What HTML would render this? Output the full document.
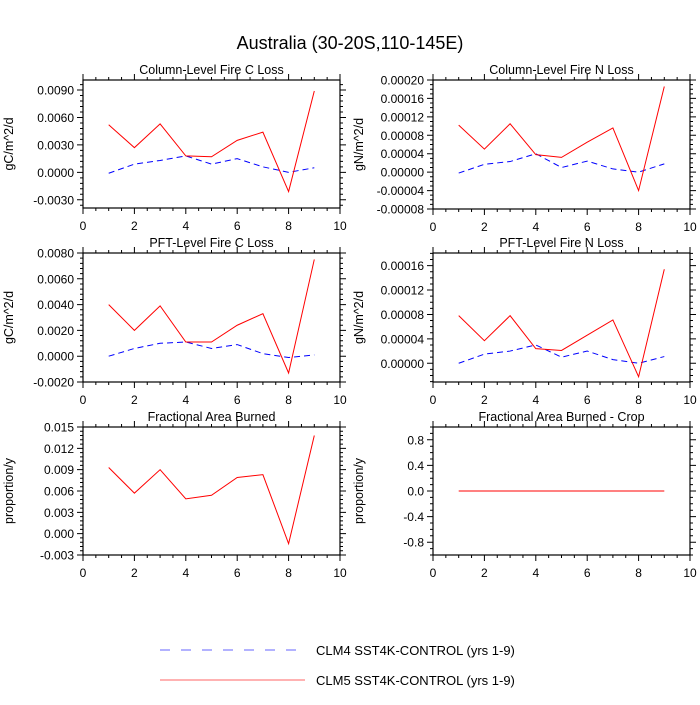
<!DOCTYPE html>
<html><head><meta charset="utf-8"><style>
body{margin:0;background:#fff;}
svg text{font-family:"Liberation Sans",sans-serif;fill:#000;}
</style></head><body>
<svg id="chart" width="700" height="700" viewBox="0 0 700 700" xmlns="http://www.w3.org/2000/svg">
<rect width="700" height="700" fill="#fff"/>
<text x="350" y="49" font-size="18" text-anchor="middle">Australia (30-20S,110-145E)</text>
<g>
<line x1="160" y1="650" x2="298" y2="650" stroke="#6666ff" stroke-width="1" stroke-dasharray="10,11"/>
<text x="316" y="655" font-size="13">CLM4 SST4K-CONTROL (yrs 1-9)</text>
<line x1="160" y1="680" x2="305" y2="680" stroke="#ff6666" stroke-width="1"/>
<text x="316" y="685" font-size="13">CLM5 SST4K-CONTROL (yrs 1-9)</text>
</g>
</svg>
<script>
const years = [1,2,3,4,5,6,7,8,9];
const xTicks = [0,2,4,6,8,10];
const colCRed = [0.0052,0.0027,0.0053,0.0018,0.0017,0.0035,0.0044,-0.0021,0.0089];
const colCBlue = [-0.0001,0.0009,0.0013,0.0018,0.0009,0.0015,0.0006,0.0000,0.0005];
const colCTicks = ["0.0090","0.0060","0.0030","0.0000","-0.0030"];
const pftCRed = [0.0040,0.0020,0.0039,0.0011,0.0011,0.0024,0.0033,-0.0013,0.0075];
const pftCBlue = [0.0000,0.0006,0.0010,0.0011,0.0006,0.0009,0.0002,-0.0001,0.0001];
const pftCTicks = ["0.0080","0.0060","0.0040","0.0020","0.0000","-0.0020"];
const colNRed = [0.000102,0.000050,0.000105,0.000038,0.000032,0.000065,0.000096,-0.000040,0.000186];
const colNBlue = [-0.000002,0.000017,0.000023,0.000040,0.000010,0.000024,0.000007,0.000000,0.000018];
const colNTicks = ["0.00020","0.00016","0.00012","0.00008","0.00004","0.00000","-0.00004","-0.00008"];
const pftNRed = [0.000078,0.000037,0.000078,0.000024,0.000021,0.000046,0.000071,-0.000022,0.000154];
const pftNBlue = [0.000000,0.000015,0.000020,0.000030,0.000010,0.000020,0.000006,0.000000,0.000011];
const pftNTicks = ["0.00016","0.00012","0.00008","0.00004","0.00000"];
const fabRed = [0.0093,0.0057,0.0090,0.0049,0.0054,0.0079,0.0083,-0.0014,0.0138];
const fabTicks = ["0.015","0.012","0.009","0.006","0.003","0.000","-0.003"];
const cropRed = [0,0,0,0,0,0,0,0,0];
const cropTicks = ["0.8","0.4","0.0","-0.4","-0.8"];

const NS="http://www.w3.org/2000/svg";
const svg=document.getElementById('chart');
function mk(tag,attrs,parent){const e=document.createElementNS(NS,tag);for(const k in attrs)e.setAttribute(k,attrs[k]);parent.appendChild(e);return e;}

function panel(name,title,ylab,x0,x1,y0,y1,ymin,ymax,ticks,minorStep,red,blue){
  const g=mk('g',{},svg);
  
  
  const sx=v=>x0+(v-0)/(10-0)*(x1-x0);
  const sy=v=>y1-(v-ymin)/(ymax-ymin)*(y1-y0);
  mk('rect',{x:x0,y:y0,width:x1-x0,height:y1-y0,fill:'none',stroke:'#000','stroke-width':1.2},g);
  const t=mk('text',{x:(x0+x1)/2,y:y0-6,'font-size':12.5,'text-anchor':'middle'},g);t.textContent=title;
  
  
  const yl=mk('text',{transform:`translate(${x0-70},${(y0+y1)/2}) rotate(-90)`,'font-size':12.5,'text-anchor':'middle'},g);yl.textContent=ylab;
  
  
  let p='';
  xTicks.forEach(v=>{const X=sx(v);p+=`M${X},${y1}v6M${X},${y0}v-6`;
    const tl=mk('text',{x:X,y:y1+22,'font-size':12,'text-anchor':'middle'},g);tl.textContent=v;
    
    });
  for(let v=0.5;v<10;v+=0.5){if(v%2===0)continue;const X=sx(v);p+=`M${X},${y1}v3M${X},${y0}v-3`;}
  ticks.forEach(s=>{const v=parseFloat(s);const Y=sy(v);p+=`M${x0},${Y}h-6M${x1},${Y}h6`;
    const tl=mk('text',{x:x0-9,y:Y+4.5,'font-size':12,'text-anchor':'end'},g);tl.textContent=s;
    
    });
  const eps=minorStep*1e-3;
  for(let k=Math.ceil(ymin/minorStep);k*minorStep<=ymax+eps;k++){const Y=sy(k*minorStep);p+=`M${x0},${Y}h-3M${x1},${Y}h3`;}
  mk('path',{d:p,stroke:'#000','stroke-width':1,fill:'none'},g);
  if(blue){const l=mk('polyline',{points:years.map((x,i)=>sx(x)+','+sy(blue[i])).join(' '),fill:'none',stroke:'#0000ff','stroke-width':1,'stroke-dasharray':'6,4'},g);
    
    }
  const r=mk('polyline',{points:years.map((x,i)=>sx(x)+','+sy(red[i])).join(' '),fill:'none',stroke:'#ff0000','stroke-width':1},g);
  
  
}
panel('column-c-loss','Column-Level Fire C Loss','gC/m^2/d',83,340,80,208,-0.0039,0.0101,colCTicks,0.0006,colCRed,colCBlue);
panel('column-n-loss','Column-Level Fire N Loss','gN/m^2/d',433,690,80,209,-0.00008,0.0002,colNTicks,0.00001,colNRed,colNBlue);
panel('pft-c-loss','PFT-Level Fire C Loss','gC/m^2/d',83,340,253,382,-0.002,0.008,pftCTicks,0.0004,pftCRed,pftCBlue);
panel('pft-n-loss','PFT-Level Fire N Loss','gN/m^2/d',433,690,253,382,-0.0000307,0.0001807,pftNTicks,0.00001,pftNRed,pftNBlue);
panel('fractional-area-burned','Fractional Area Burned','proportion/y',83,340,427,555,-0.003,0.015,fabTicks,0.0006,fabRed,null);
panel('fractional-area-burned-crop','Fractional Area Burned - Crop','proportion/y',433,690,427,555,-1,1,cropTicks,0.1,cropRed,null);
</script>
</body></html>
